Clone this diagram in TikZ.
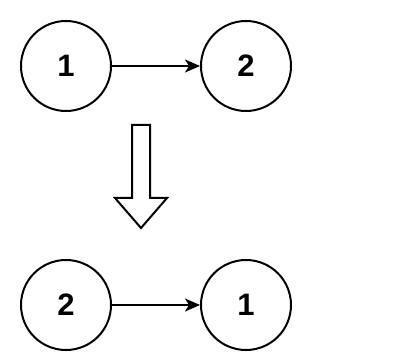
\documentclass[tikz,border=0pt]{standalone}
\usepackage{fontspec}
\setmainfont{Liberation Sans}
\usetikzlibrary{arrows.meta}

\begin{document}
\begin{tikzpicture}[x=1pt,y=-1pt,
    vertex/.style={circle,draw,line width=2pt,minimum size=90pt,inner sep=0pt,
      font=\fontsize{31}{36}\selectfont\bfseries},
    link/.style={-{Stealth[length=15pt,width=13pt,inset=4pt]},line width=2pt}]
  \useasboundingbox (0,0) rectangle (408,361);
  % before
  \node[vertex] (topa) at (66,66) {1};
  \node[vertex] (topb) at (246,66) {2};
  \draw[link] (topa) -- (topb);
  % block arrow
  \draw[line width=2pt,line join=miter]
    (132,125) -- (150,125) -- (150,198) -- (167,198) -- (141,228)
    -- (115,198) -- (132,198) -- cycle;
  % after
  \node[vertex] (bota) at (66,305) {2};
  \node[vertex] (botb) at (246,305) {1};
  \draw[link] (bota) -- (botb);
\end{tikzpicture}
\end{document}
